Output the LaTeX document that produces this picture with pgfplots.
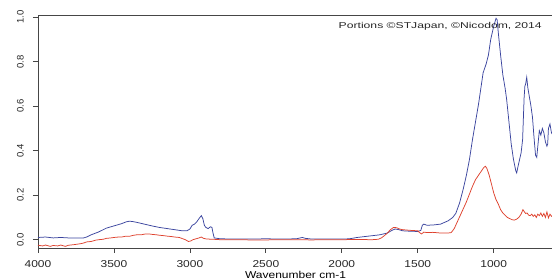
\documentclass[border=0pt]{standalone}
\usepackage{pgfplots}
\pgfplotsset{compat=1.18}
\usepackage{fontspec}
\setmainfont{Liberation Sans}
\definecolor{spblue}{RGB}{58,68,158}
\definecolor{spred}{RGB}{222,66,46}
\definecolor{axgray}{RGB}{70,70,70}
\pgfplotstableread{
w v
4000 0.010
3950 0.012
3900 0.008
3850 0.010
3800 0.008
3750 0.008
3700 0.008
3680 0.012
3650 0.022
3600 0.035
3550 0.052
3500 0.062
3450 0.072
3420 0.080
3400 0.083
3380 0.082
3350 0.078
3300 0.070
3250 0.062
3200 0.055
3150 0.050
3100 0.045
3050 0.040
3020 0.040
3000 0.048
2985 0.065
2970 0.070
2955 0.080
2940 0.095
2925 0.108
2915 0.095
2905 0.065
2895 0.055
2880 0.050
2865 0.058
2855 0.055
2848 0.030
2840 0.008
2800 0.004
2700 0.003
2600 0.003
2500 0.004
2400 0.003
2300 0.004
2260 0.010
2240 0.006
2200 0.003
2100 0.003
2000 0.003
1950 0.004
1900 0.010
1850 0.014
1800 0.018
1750 0.022
1700 0.030
1670 0.042
1650 0.048
1630 0.046
1600 0.040
1550 0.038
1500 0.037
1480 0.042
1470 0.065
1460 0.070
1440 0.065
1400 0.066
1350 0.070
1300 0.085
1270 0.100
1250 0.118
1225 0.165
1200 0.230
1180 0.290
1160 0.360
1140 0.450
1120 0.530
1100 0.610
1085 0.680
1070 0.750
1050 0.790
1035 0.830
1020 0.900
1000 0.960
985 0.995
978 0.990
970 0.930
955 0.830
940 0.740
925 0.680
915 0.630
900 0.530
885 0.430
870 0.360
855 0.310
849 0.300
840 0.330
830 0.360
820 0.390
810 0.450
800 0.640
795 0.690
790 0.700
783 0.730
775 0.680
765 0.640
755 0.600
745 0.550
735 0.460
725 0.380
717 0.370
710 0.420
700 0.490
690 0.470
680 0.500
670 0.480
660 0.440
650 0.420
645 0.430
640 0.500
630 0.520
620 0.480
610 0.470
}\blue
\pgfplotstableread{
w v
4000 -0.025
3970 -0.028
3950 -0.024
3920 -0.030
3900 -0.026
3870 -0.028
3850 -0.024
3820 -0.030
3800 -0.025
3760 -0.022
3720 -0.018
3700 -0.015
3680 -0.010
3650 -0.008
3620 -0.002
3600 0.000
3570 0.002
3550 0.006
3520 0.008
3500 0.010
3470 0.012
3450 0.012
3420 0.016
3400 0.015
3370 0.020
3350 0.022
3320 0.022
3300 0.025
3270 0.026
3250 0.024
3220 0.022
3200 0.020
3170 0.018
3150 0.016
3120 0.014
3100 0.012
3070 0.010
3050 0.005
3030 0.000
3010 -0.008
2995 -0.006
2980 0.000
2960 0.004
2940 0.008
2925 0.012
2910 0.006
2890 0.003
2850 0.002
2800 0.000
2700 0.000
2600 -0.001
2500 -0.001
2400 0.000
2300 0.000
2200 -0.001
2100 0.000
2000 0.000
1900 0.001
1800 0.000
1760 0.002
1740 0.008
1720 0.018
1700 0.030
1680 0.045
1660 0.055
1640 0.054
1620 0.048
1600 0.045
1550 0.042
1500 0.040
1485 0.030
1475 0.026
1460 0.034
1440 0.032
1400 0.033
1350 0.030
1300 0.030
1280 0.032
1260 0.050
1240 0.080
1220 0.110
1200 0.140
1180 0.170
1160 0.205
1140 0.240
1120 0.270
1100 0.290
1080 0.310
1065 0.325
1055 0.330
1045 0.320
1030 0.290
1015 0.250
1000 0.210
985 0.180
970 0.160
955 0.135
940 0.120
925 0.110
910 0.100
895 0.095
880 0.090
865 0.088
850 0.092
835 0.100
820 0.115
808 0.135
798 0.125
790 0.118
780 0.120
770 0.110
760 0.108
750 0.115
740 0.105
730 0.112
720 0.100
710 0.115
700 0.108
690 0.120
680 0.105
670 0.118
660 0.100
650 0.125
640 0.098
630 0.115
620 0.105
610 0.110
}\red
\begin{document}
\begin{tikzpicture}
\path[use as bounding box] (-38pt,-32pt) rectangle (514pt,248pt);
\begin{axis}[
  at={(0,0)}, anchor=south west,
  width=515pt, height=233pt, scale only axis,
  x dir=reverse, xmin=610, xmax=4000,
  ymin=-0.0373, ymax=1.0099,
  axis line style={axgray, line width=0.8pt},
  tick style={axgray, line width=0.8pt},
  tick align=outside, major tick length=5pt,
  xtick={1000,1500,...,4000},
  ytick={0,0.2,0.4,0.6,0.8,1.0},
  xtick pos=bottom, ytick pos=left,
  /pgf/number format/1000 sep={},
  /pgf/number format/assume math mode=true,
  xticklabel={\scalebox{1.2}[1]{\pgfmathprintnumber{\tick}}},
  xticklabel style={font=\fontsize{10}{12}\selectfont, text=black!85, yshift=-4pt},
  yticklabel={\rotatebox{90}{\pgfmathprintnumber[fixed,fixed zerofill,precision=1]{\tick}}},
  yticklabel style={font=\fontsize{9.5}{11}\selectfont, anchor=east, inner sep=0pt, xshift=-9pt, text=black!85},
  xlabel={\scalebox{1.2}[1]{Wavenumber cm-1}},
  xlabel style={font=\fontsize{10}{12}\selectfont, text=black!85},
  every axis x label/.style={at={(axis description cs:0.5,0)}, anchor=north, yshift=-20pt},
  clip=true,
]
\addplot[spblue, line width=0.75pt] table[x=w,y=v] {\blue};
\addplot[spred, line width=0.75pt] table[x=w,y=v] {\red};
\node[anchor=base east, inner sep=0pt, font=\fontsize{8.5}{10}\selectfont, text=black!85] at (rel axis cs:0.9786,0.943) {\scalebox{1.43}[1]{Portions ©STJapan, ©Nicodom, 2014}};
\end{axis}
\end{tikzpicture}
\end{document}
